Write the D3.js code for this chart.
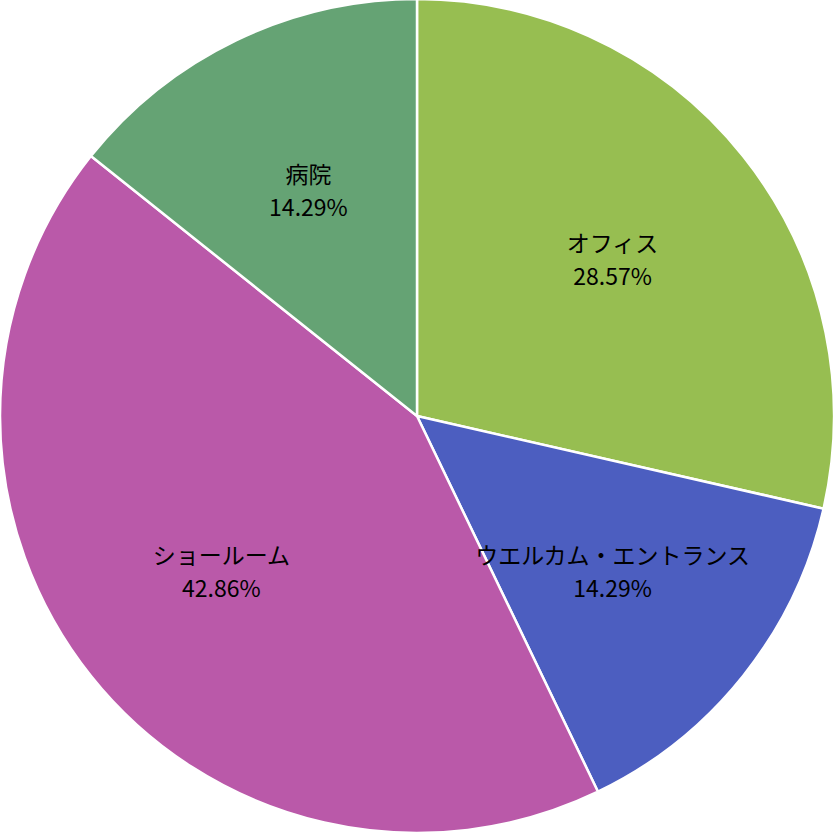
<!DOCTYPE html>
<html>
<head>
<meta charset="utf-8">
<script src="https://cdn.jsdelivr.net/npm/d3@7"></script>
<style>
  html, body { margin: 0; padding: 0; background: #fff; }
</style>
</head>
<body>
<div class="chart"></div>
<script>
const categories = ["オフィス", "ウエルカム・エントランス", "ショールーム", "病院"];
const values = [28.57, 14.29, 42.86, 14.29];
const colors = ["#97BE51", "#4C5EC0", "#BA59A9", "#65A374"];

const width = 835, height = 835;
const radius = 417;
const cx = 417, cy = 416;

const data = categories.map((c, i) => ({name: c, value: values[i], color: colors[i]}));

const svg = d3.select(".chart").append("svg")
    .attr("width", width)
    .attr("height", height);

const g = svg.append("g")
    .attr("transform", `translate(${cx},${cy})`);

const pie = d3.pie()
    .sort(null)
    .value(d => d.value);

const arc = d3.arc()
    .innerRadius(0)
    .outerRadius(radius);

// labels sit a bit past the middle of each slice
const labelArc = d3.arc()
    .innerRadius(radius * 0.6)
    .outerRadius(radius * 0.6);

const arcs = pie(data);

g.selectAll("path")
    .data(arcs)
    .enter()
    .append("path")
    .attr("d", arc)
    .attr("fill", d => d.data.color)
    .attr("stroke", "#fff")
    .attr("stroke-width", 2.5)
    .attr("stroke-linejoin", "round");

const labels = g.selectAll(".label")
    .data(arcs)
    .enter()
    .append("g")
    .attr("class", "label")
    .attr("transform", d => `translate(${labelArc.centroid(d)})`)
    .attr("text-anchor", "middle")
    .attr("font-family", "'Noto Sans CJK JP', 'Noto Sans', sans-serif")
    .attr("font-size", "23px")
    .attr("fill", "#000");

labels.append("text")
    .attr("y", -16)
    .attr("dy", "0.35em")
    .text(d => d.data.name);

labels.append("text")
    .attr("y", 17)
    .attr("dy", "0.35em")
    .text(d => d3.format(".2f")(d.data.value) + "%");
</script>
</body>
</html>
